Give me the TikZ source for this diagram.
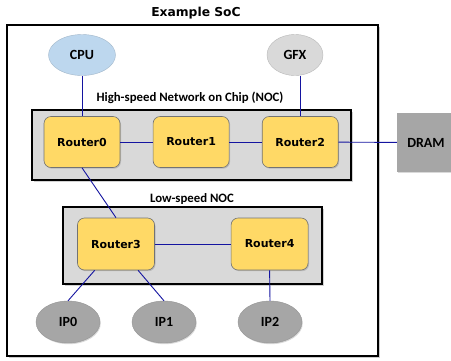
\documentclass[tikz,border=0pt]{standalone}
\usepackage{fontspec}
\newfontfamily\rtfont{DejaVu Sans}
\newfontfamily\lbfont{Carlito}
\usepackage{tikz}
\usetikzlibrary{positioning, shapes.geometric, shadows}
\definecolor{linkblue}{RGB}{20,20,160}
\definecolor{routerfill}{RGB}{255,217,102}
\definecolor{cpufill}{RGB}{189,215,238}
\definecolor{gfxfill}{RGB}{217,217,217}
\definecolor{ipfill}{RGB}{166,166,166}
\definecolor{nocfill}{RGB}{217,217,217}
\begin{document}
\begin{tikzpicture}[
      x=1pt, y=-1pt,
      node distance = 32.5pt,
      soc/.style = {rectangle, draw=black, line width=1.6pt, fill=white,
                    minimum width=371pt, minimum height=331pt,
                    drop shadow={shadow xshift=1.5pt, shadow yshift=-1.5pt, opacity=0.4}},
      noc/.style = {rectangle, draw=black, line width=1.1pt, fill=nocfill,
                    drop shadow={shadow xshift=1.5pt, shadow yshift=-1.5pt, opacity=0.35}},
      router/.style = {rectangle, rounded corners=7pt,
                       minimum width=76pt, minimum height=51pt,
                       draw=black!55, line width=0.6pt, fill=routerfill,
                       font=\rtfont\bfseries\fontsize{11}{13}\selectfont,
                       drop shadow={shadow xshift=1pt, shadow yshift=-1.2pt, opacity=0.35}},
      unit/.style = {ellipse, minimum width=64pt, minimum height=42pt,
                     font=\lbfont\bfseries\fontsize{14}{16}\selectfont},
      ipunit/.style = {unit, fill=ipfill, draw=ipfill!90!black, line width=0.4pt,
                       drop shadow={shadow xshift=0.8pt, shadow yshift=-1.2pt, opacity=0.3}},
      lbl/.style = {font=\lbfont\bfseries\fontsize{12.8}{15}\selectfont},
      link/.style = {draw=linkblue, line width=0.9pt},
    ]
    \useasboundingbox (0,0) rectangle (451,360);
    \node[font=\rtfont\bfseries\fontsize{12.3}{14}\selectfont] (title) at (196,13) {Example SoC};
    \node[soc] (chip) at (192.5,190.5) {};
    % networks on chip
    \node[noc, minimum width=319pt, minimum height=70pt] (hsnoc) at (191.5,145) {};
    \node[noc, minimum width=259pt, minimum height=77pt] (lsnoc) at (192.5,245.5) {};
    \node[lbl] (hslabel) at (190,98) {High-speed Network on Chip (NOC)};
    \node[lbl] (lslabel) at (192,199) {Low-speed NOC};
    % routers
    \node[router] (router0) at (82,142) {Router0};
    \node[router, right=of router0] (router1) {Router1};
    \node[router, right=of router1] (router2) {Router2};
    \node[router, minimum width=77pt, minimum height=52pt] (router3) at (116,244) {Router3};
    \node[router, minimum width=77pt, minimum height=52pt, right=76pt of router3] (router4) {Router4};
    % agents
    \node[unit, fill=cpufill, draw=cpufill!85!black, line width=0.4pt,
          minimum width=67pt, minimum height=41pt] (cpu) at (82,55) {CPU};
    \node[unit, fill=gfxfill, draw=gfxfill!85!black, line width=0.4pt,
          minimum width=56pt, minimum height=41pt] (gfx) at (295,55) {GFX};
    \node[ipunit] (ip0) at (68,322) {IP0};
    \node[ipunit] (ip1) at (164,322) {IP1};
    \node[ipunit] (ip2) at (270,322) {IP2};
    \node[rectangle, fill=ipfill, minimum width=58pt, minimum height=59pt,
          font=\lbfont\bfseries\fontsize{14}{16}\selectfont,
          drop shadow={shadow xshift=0.8pt, shadow yshift=-1.2pt, opacity=0.3}] (dram) at (426,142.5) {DRAM};
    % links
    \draw[link] (cpu) -- (router0);
    \draw[link] (router2.north) -- (router2.north |- gfx.south);
    \draw[link] (router0) -- (router1);
    \draw[link] (router1) -- (router2);
    \draw[link] (router2) -- (dram);
    \draw[link] (router0.south) -- (router3.north);
    \draw[link] (router3) -- (router4);
    \draw[link] (router3.231) -- (ip0.north);
    \draw[link] (router3.310) -- (ip1.north);
    \draw[link] (router4.south) -- (ip2.north);
\end{tikzpicture}
\end{document}
